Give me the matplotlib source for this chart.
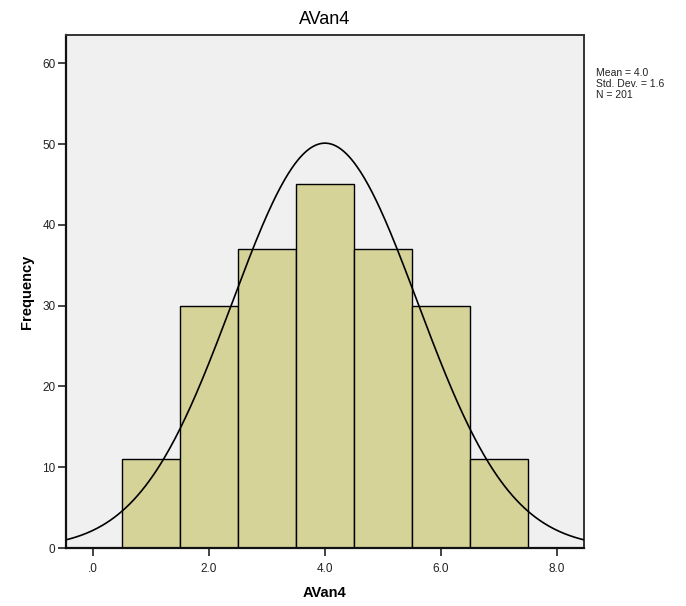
import numpy as np
import matplotlib
matplotlib.use("Agg")
import matplotlib.pyplot as plt

plt.rcParams['font.family'] = ['Liberation Sans', 'DejaVu Sans']

# histogram bins (value -> count)
values = [1, 2, 3, 4, 5, 6, 7]
counts = [11, 30, 37, 45, 37, 30, 11]
xticks = [0, 2, 4, 6, 8]
xtick_labels = ['.0', '2.0', '4.0', '6.0', '8.0']
yticks = [0, 10, 20, 30, 40, 50, 60]

n = sum(counts)
mean = np.average(values, weights=counts)
sd = np.sqrt(np.sum(np.array(counts) * (np.array(values) - mean) ** 2) / (n - 1))

fig = plt.figure(figsize=(6.86, 6.06), dpi=100)
ax = fig.add_axes([0.0962, 0.0957, 0.755, 0.8465])
ax.set_facecolor('#f0f0f0')

ax.bar(values, counts, width=1.0, color='#d5d398', edgecolor='black', linewidth=1.0, zorder=2)

# normal curve scaled to the histogram
xs = np.linspace(-0.47, 8.47, 400)
curve = n * 1.0 / (sd * np.sqrt(2 * np.pi)) * np.exp(-(xs - mean) ** 2 / (2 * sd ** 2))
ax.plot(xs, curve, color='black', linewidth=1.2, zorder=3)

ax.set_xlim(-0.47, 8.47)
ax.set_ylim(0, 63.5)
ax.set_xticks(xticks)
ax.set_xticklabels(xtick_labels)
ax.set_yticks(yticks)
ax.tick_params(axis='both', direction='out', length=5.5, width=1.2, colors='#222222',
               labelsize=8.5, pad=2)
ax.tick_params(axis='x', pad=5)

for side in ['left', 'bottom']:
    ax.spines[side].set_linewidth(1.6)
    ax.spines[side].set_color('#111111')
for side in ['top', 'right']:
    ax.spines[side].set_linewidth(1.4)
    ax.spines[side].set_color('#333333')

ax.set_title('AVan4', fontsize=13, pad=8)
ax.set_xlabel('AVan4', fontsize=10.5, fontweight='bold', labelpad=8)
ax.set_ylabel('Frequency', fontsize=10.5, fontweight='bold', labelpad=6)

fig.text(596 / 686, 1 - 68 / 606,
         'Mean = %.1f\nStd. Dev. = %.1f\nN = %d' % (mean, sd, n),
         fontsize=7.5, va='top', ha='left', linespacing=1.1, color='#222222')

fig.savefig('out.png', dpi=100)
